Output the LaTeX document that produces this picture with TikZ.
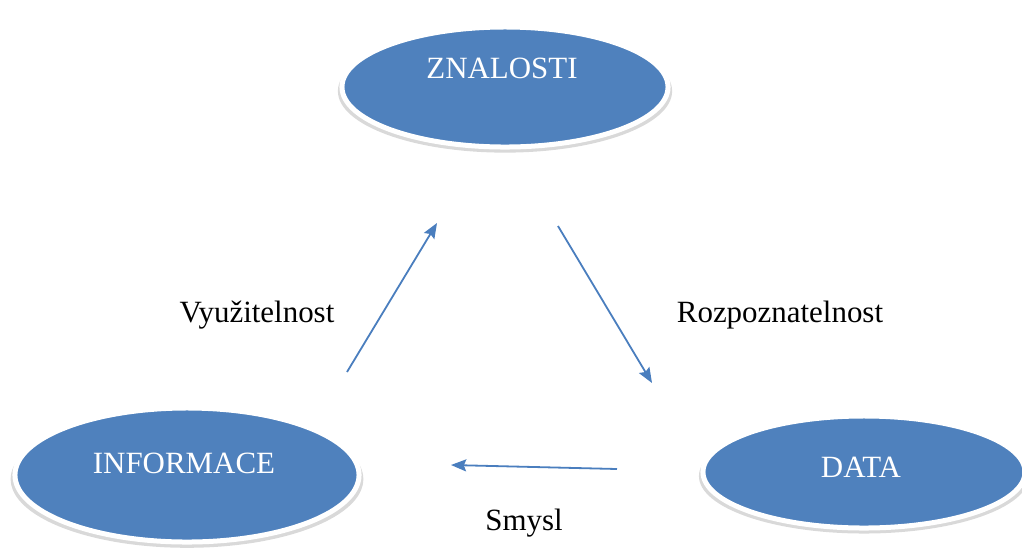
\documentclass[tikz,border=0pt]{standalone}
\usepackage{fontspec}
\setmainfont{Liberation Serif}
\usetikzlibrary{positioning, arrows.meta, shapes.geometric, shadows}

\definecolor{blobblue}{RGB}{79,129,189}
\definecolor{arrowblue}{RGB}{74,126,190}

\tikzset{
  blob/.style={ellipse, fill=blobblue, draw=white, line width=0.125cm, inner sep=0pt,
    drop shadow={shadow xshift=0pt, shadow yshift=-0.1cm, opacity=0.3, shadow scale=1.025}},
  blobtext/.style={anchor=base, text=white, inner sep=0pt},
  caption/.style={anchor=base, text=black, inner sep=0pt},
  flow/.style={->, draw=arrowblue, line width=0.045cm}
}

\begin{document}
\begin{tikzpicture}[x=0.025cm, y=-0.025cm, >={Stealth[length=0.38cm, width=0.3cm, inset=0.06cm]},
    font=\fontsize{22}{26}\selectfont]
      \useasboundingbox (0,0) rectangle (1022,549);

      % the three ellipses
      \node[blob, minimum width=8.15cm, minimum height=3.0cm] (zn) at (505,87) {};
      \node[blob, minimum width=8.6cm, minimum height=3.35cm] (inf) at (187,475) {};
      \node[blob, minimum width=8.05cm, minimum height=2.8cm] (dat) at (864,472) {};

      \node[blobtext] (zntext) at (502,78) {ZNALOSTI};
      \node[blobtext] (inftext) at (184,473) {INFORMACE};
      \node[blobtext] (dattext) at (861,477) {DATA};

      % free arrow ends
      \coordinate (ua) at (347,372);
      \coordinate (ub) at (437,223);
      \coordinate (da) at (558,226);
      \coordinate (db) at (652,383);
      \coordinate (la) at (617,469);
      \coordinate (lb) at (451,465);

      \draw[flow] (ua) -- (ub);
      \draw[flow] (da) -- (db);
      \draw[flow] (la) -- (lb);

      \node[caption] (vyu) at (257,322) {Využitelnost};
      \node[caption] (roz) at (780,322) {Rozpoznatelnost};
      \node[caption] (smy) at (524,530) {Smysl};
    \end{tikzpicture}
\end{document}
